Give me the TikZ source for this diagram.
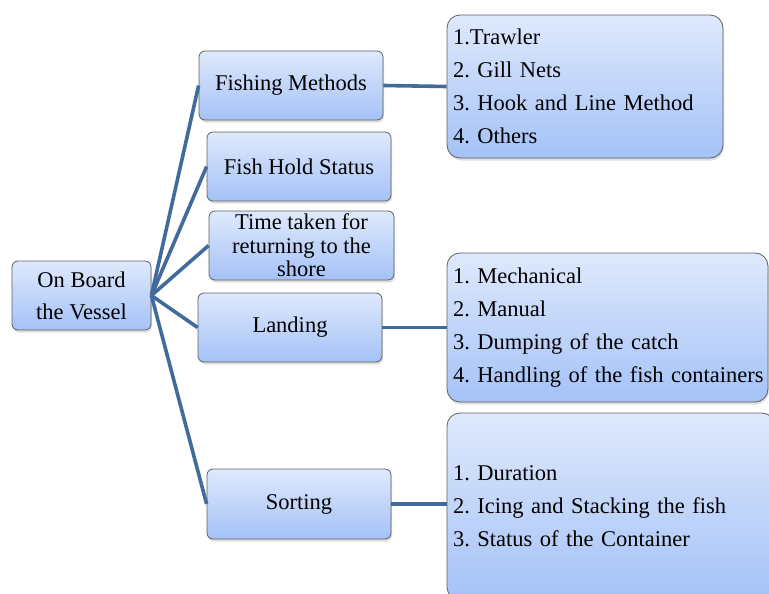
\documentclass[tikz,border=0pt]{standalone}
\usepackage{fontspec}
\setmainfont{Liberation Serif}
\usetikzlibrary{shadows}
\definecolor{boxtop}{RGB}{223,233,252}
\definecolor{boxbottom}{RGB}{164,194,247}
\definecolor{boxline}{RGB}{95,95,95}
\definecolor{linkblue}{RGB}{65,107,154}
\begin{document}
\frenchspacing
\hyphenpenalty=10000
\begin{tikzpicture}[x=1pt, y=-1pt,
  box/.style={shape=rectangle, rounded corners=6pt, draw=boxline, line width=0.8pt,
    top color=boxtop, bottom color=boxbottom, align=center, inner sep=2pt,
    drop shadow={shadow xshift=1pt, shadow yshift=-2.5pt, opacity=0.25},
    font=\fontsize{22.5}{32}\selectfont},
  listbox/.style={box, rounded corners=13pt, align=left, inner xsep=6pt,
    font=\fontsize{22.5}{33}\selectfont},
  link/.style={draw=linkblue, line width=3.6pt}]
%%%%%%%%%%%%%%%%%%%%%%%%%%%%%%%%%%%%%%%%%%% HELP LINES
%\draw[help lines] (0,0) grid[step=50] (769,594);
\useasboundingbox (0,0) rectangle (769,594);

%%%%%%%%%%%%%%%%%%%%%%%%%%%%%%%%%%%%%%%%%%% lists (right column)
\begin{scope}
\clip (0,0) rectangle (769,594);
\node[listbox, minimum width=276pt, minimum height=143pt, text width=264pt](methods) at (585,86.5)
  {1.Trawler\\2. Gill Nets\\3. Hook and Line Method\\4. Others};
\node[listbox, minimum width=321pt, minimum height=149pt, text width=309pt](handling) at (607.5,327.5)
  {1. Mechanical\\2. Manual\\3. Dumping of the catch\\\mbox{4. Handling of the fish containers}};
\node[listbox, minimum width=328pt, minimum height=187pt, text width=316pt](icing) at (611,506.5)
  {1. Duration\\2. Icing and Stacking the fish\\3. Status of the Container};
\end{scope}

%%%%%%%%%%%%%%%%%%%%%%%%%%%%%%%%%%%%%%%%%%% elements
\node[box, minimum width=139pt, minimum height=69pt](vessel) at (81.5,295.5){On Board\\the Vessel};
\node[box, minimum width=184pt, minimum height=69pt](fishing) at (291,85.5){Fishing Methods};
\node[box, minimum width=184pt, minimum height=69pt](hold) at (299,166.5){Fish Hold Status};
\node[box, minimum width=185pt, minimum height=69pt, font=\fontsize{22.5}{23.5}\selectfont](shore) at (301.5,245.5)
  {Time taken for\\returning to the\\shore};
\node[box, minimum width=184pt, minimum height=69pt](landing) at (290,327.5){Landing};
\node[box, minimum width=184pt, minimum height=70pt](sorting) at (299,504){Sorting};

%%%%% edges
\foreach \child in {fishing, hold, shore, landing, sorting}
  \draw[link] (vessel.east) -- (\child.west);
\draw[link] (fishing.east) -- (methods.west);
\draw[link] (landing.east) -- (handling.west);
\draw[link] (sorting.east) -- (sorting.east -| icing.west);
\end{tikzpicture}
\end{document}
